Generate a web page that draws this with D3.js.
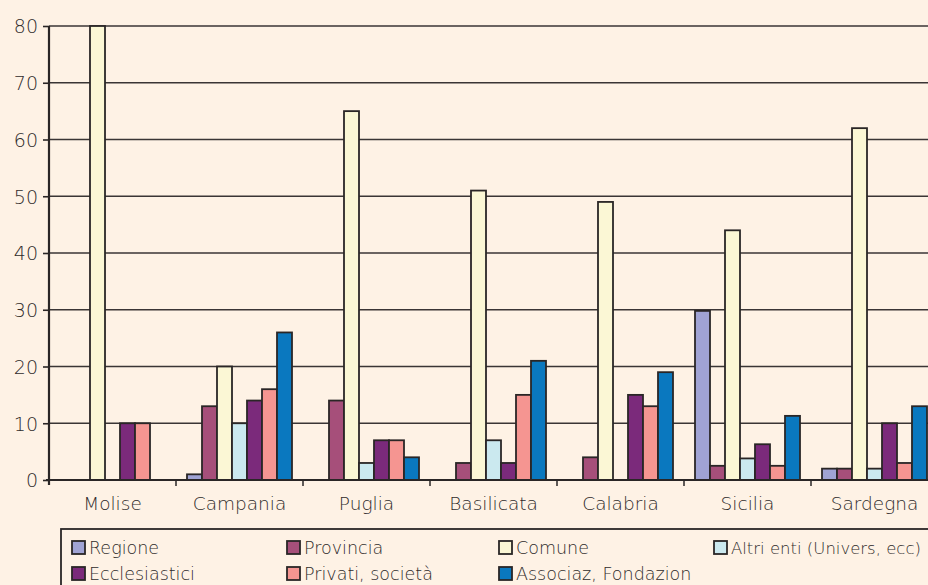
<!DOCTYPE html>
<html>
<head>
<meta charset="utf-8">
<script src="https://cdn.jsdelivr.net/npm/d3@7"></script>
<style>
  body { margin: 0; background: #fef2e5; }
  svg { display: block; }
  .lbl { fill: #2f2b2b; font-family: "DejaVu Sans", sans-serif; font-weight: 200; }
</style>
</head>
<body>
<div id="chart"></div>
<script>
var WIDTH = 928;
var HEIGHT = 585;

// data
var regions = ["Molise", "Campania", "Puglia", "Basilicata", "Calabria", "Sicilia", "Sardegna"];
var series = ["Regione", "Provincia", "Comune", "Altri enti (Univers, ecc)",
              "Ecclesiastici", "Privati, società", "Associaz, Fondazion"];
var colors = ["#a0a3d4", "#a64f7a", "#fbf7d5", "#cbe9ef", "#7b2a7b", "#f59591", "#0a78bf"];

var regione      = [0, 1, 0, 0, 0, 29.8, 2];
var provincia    = [0, 13, 14, 3, 4, 2.5, 2];
var comune       = [80, 20, 65, 51, 49, 44, 62];
var altri        = [0, 10, 3, 7, 0, 3.8, 2];
var ecclesiastici = [10, 14, 7, 3, 15, 6.3, 10];
var privati      = [10, 16, 7, 15, 13, 2.5, 3];
var associaz     = [0, 26, 4, 21, 19, 11.3, 13];
var values = [regione, provincia, comune, altri, ecclesiastici, privati, associaz];

var yTicks = [0, 10, 20, 30, 40, 50, 60, 70, 80];

var SVG = d3.select("#chart").append("svg")
    .attr("width", WIDTH).attr("height", HEIGHT);

SVG.append("rect").attr("width", WIDTH).attr("height", HEIGHT).attr("fill", "#fef2e5");

var x0 = d3.scaleBand().domain(regions).range([49, 938]);
var x1 = d3.scaleBand().domain(series).range([11, 116]);
var y = d3.scaleLinear().domain([0, 80]).range([480, 26]);

// gridlines
SVG.append("g").selectAll("line").data(yTicks.slice(1)).join("line")
    .attr("x1", 49).attr("x2", WIDTH)
    .attr("y1", d => y(d)).attr("y2", d => y(d))
    .attr("stroke", "#3a3535").attr("stroke-width", 1.6);

// bars
var rows = [];
regions.forEach((r, i) => {
    series.forEach((s, j) => rows.push({region: r, series: s, value: values[j][i], color: colors[j]}));
});

SVG.append("g").selectAll("rect").data(rows).join("rect")
    .attr("x", d => x0(d.region) + x1(d.series))
    .attr("y", d => y(d.value))
    .attr("width", x1.bandwidth())
    .attr("height", d => y(0) - y(d.value))
    .attr("fill", d => d.color)
    .attr("stroke", "#2a2626").attr("stroke-width", 1.8);

// y axis
var yAxis = SVG.append("g").attr("transform", "translate(49,0)")
    .call(d3.axisLeft(y).tickValues(yTicks).tickSize(6).tickPadding(5))
    .attr("font-family", null).attr("font-size", null);
yAxis.select(".domain").attr("stroke", "#2a2626").attr("stroke-width", 2.2)
    .attr("d", "M0,26V485");
yAxis.selectAll(".tick line").attr("stroke", "#2a2626").attr("stroke-width", 1.6);
yAxis.selectAll(".tick text").attr("class", "lbl").style("font-size", "19px")
    .attr("dy", "0.36em");

// x axis
var xAxis = SVG.append("g").attr("transform", "translate(0,480)")
    .call(d3.axisBottom(x0).tickSize(0).tickPadding(17))
    .attr("font-family", null).attr("font-size", null);
xAxis.select(".domain").attr("stroke", "#2a2626").attr("stroke-width", 2)
    .attr("d", "M46,0H" + WIDTH);
xAxis.selectAll(".tick text").attr("class", "lbl").style("font-size", "18.5px");
SVG.append("g").selectAll("line").data(regions.slice(1)).join("line")
    .attr("x1", d => x0(d)).attr("x2", d => x0(d))
    .attr("y1", 480).attr("y2", 486)
    .attr("stroke", "#2a2626").attr("stroke-width", 1.5);

// legend
var legend = SVG.append("g");
legend.append("rect")
    .attr("x", 61).attr("y", 529).attr("width", 900).attr("height", 80)
    .attr("fill", "none").attr("stroke", "#2a2626").attr("stroke-width", 1.8);

var legX = [72, 287, 499, 714];
var item = legend.selectAll("g.item").data(series).join("g")
    .attr("transform", (d, i) => `translate(${legX[i % 4]},${i < 4 ? 541 : 567})`);
item.append("rect")
    .attr("width", 13).attr("height", 13)
    .attr("fill", (d, i) => colors[i])
    .attr("stroke", "#2a2626").attr("stroke-width", 1.8);
item.append("text").attr("class", "lbl")
    .attr("x", 17).attr("y", 13)
    .style("font-size", (d, i) => i === 3 ? "16.5px" : "17.5px")
    .text(d => d);
</script>
</body>
</html>
